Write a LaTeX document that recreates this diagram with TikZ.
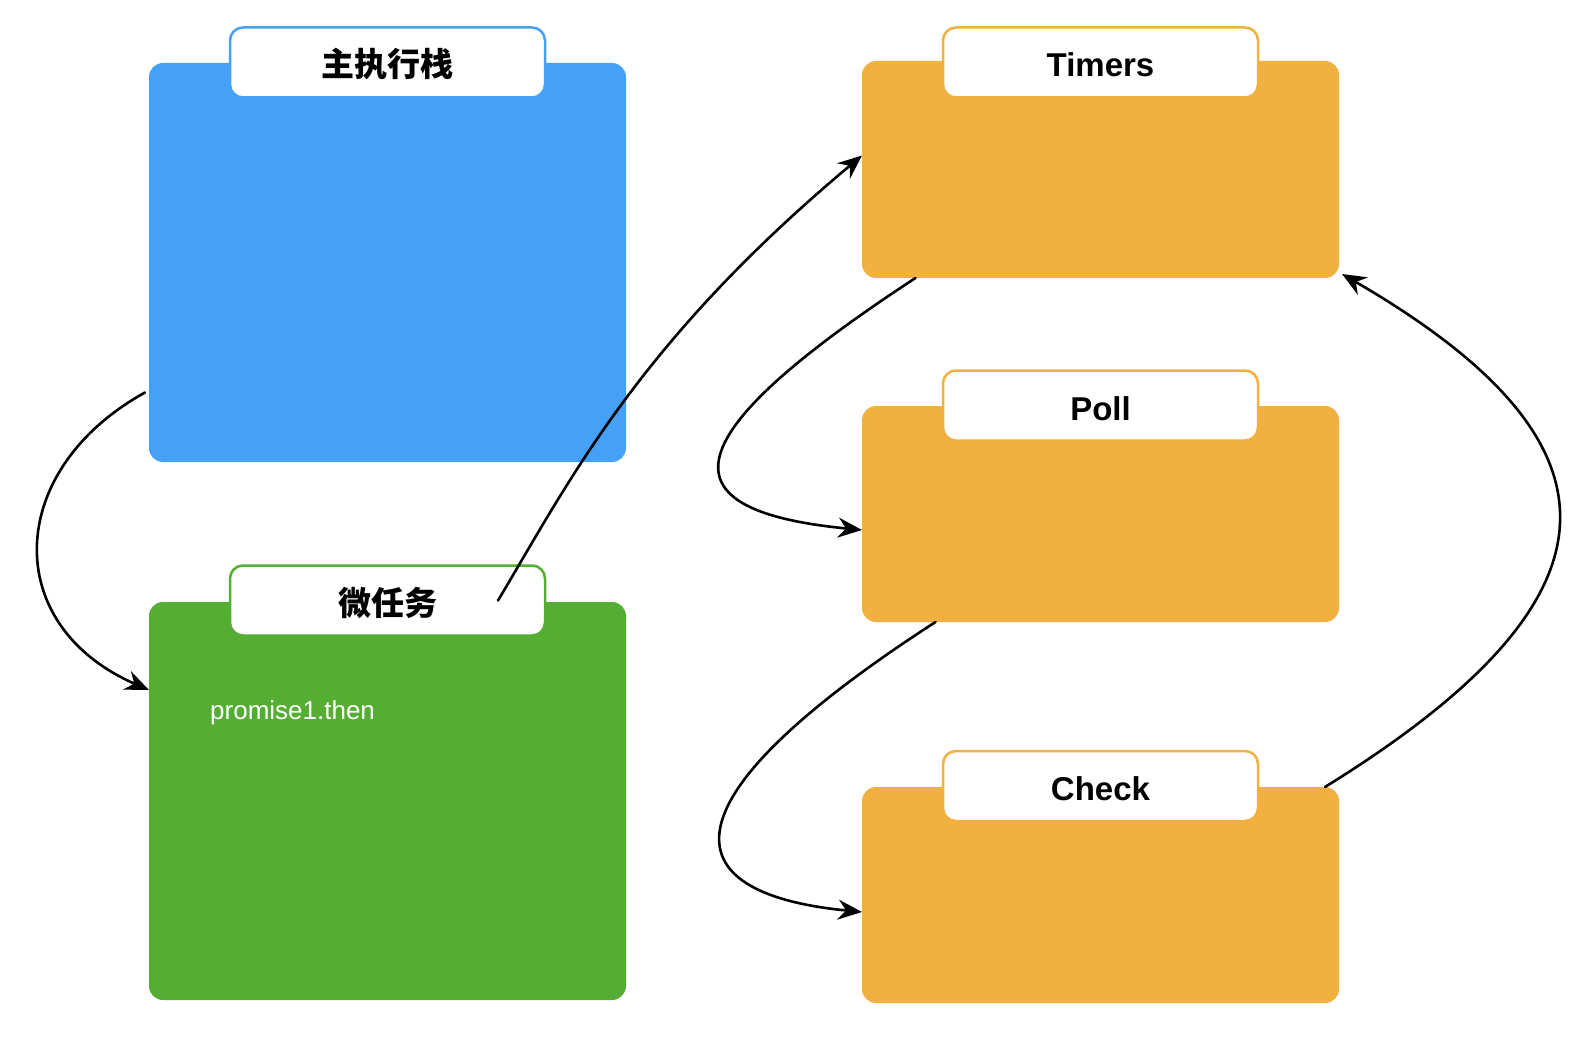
\documentclass[tikz,border=0pt]{standalone}
\usepackage{fontspec}
\setmainfont{Liberation Sans}
\newfontfamily\cjk{Noto Sans CJK SC}
\usetikzlibrary{arrows.meta}
\definecolor{blueC}{RGB}{69,160,248}
\definecolor{greenC}{RGB}{85,173,52}
\definecolor{orangeC}{RGB}{242,176,64}
\begin{document}
\begin{tikzpicture}[x=1pt,y=-1pt,
  panel/.style={rounded corners=14pt, minimum width=477pt, inner sep=0pt, outer sep=0pt},
  tab/.style={fill=white, draw=#1, line width=2.5pt, rounded corners=13pt, minimum width=315pt, minimum height=70pt, inner sep=0pt, outer sep=0pt, text height=29pt, text depth=0pt, font=\fontsize{33}{38}\selectfont\bfseries},
  sk/.style={line width=2.6pt, line cap=round, black, -{Stealth[length=24pt,width=20pt,inset=8pt]}}]
\useasboundingbox[fill=white] (0,0) rectangle (1576,1048);

% panels
\node[panel, fill=blueC, minimum height=399pt] (stack) at (387.5,262.5) {};
\node[panel, fill=greenC, minimum height=398pt] (micro) at (387.5,801) {};
\node[panel, fill=orangeC, minimum height=217pt] (timers) at (1100.5,169.5) {};
\node[panel, fill=orangeC, minimum height=216pt] (poll) at (1100.5,514) {};
\node[panel, fill=orangeC, minimum height=216pt] (check) at (1100.5,895) {};

% tabs
\node[tab=blueC] (stacktab) at (387.5,62.5) {\cjk\bfseries 主执行栈};
\node[tab=greenC] (microtab) at (387.5,600.5) {\cjk\bfseries 微任务};
\node[tab=orangeC] (timerstab) at (1100.5,62.5) {Timers};
\node[tab=orangeC] (polltab) at (1100.5,405.5) {Poll};
\node[tab=orangeC] (checktab) at (1100.5,786) {Check};

% content
\node[anchor=west, text=white, inner sep=0pt, font=\fontsize{26}{30}\selectfont] (p1) at (210,713) {promise1.then};

% connectors
\coordinate (a1s) at ([shift={(-4pt,-130pt)}]stack.west);
\coordinate (a1e) at ([yshift=111pt]micro.west);
\draw[sk] (a1s) .. controls (5,470) and (0,625) .. (a1e);

\coordinate (a2s) at ([xshift=-47pt]microtab.east);
\coordinate (a2e) at ([yshift=14pt]timers.west);
\draw[sk] (a2s) .. controls (570,480) and (638,343) .. (a2e);

\coordinate (a3s) at ([xshift=-185pt]timers.south);
\coordinate (a3e) at ([yshift=-16pt]poll.west);
\draw[sk] (a3s) .. controls (663,443) and (667,511) .. (a3e);

\coordinate (a4s) at ([xshift=-165pt]poll.south);
\coordinate (a4e) at ([yshift=-17pt]check.west);
\draw[sk] (a4s) .. controls (660,800) and (667,893) .. (a4e);

\coordinate (a5s) at ([xshift=-14pt]check.north east);
\coordinate (a5e) at ([shift={(3pt,4pt)}]timers.south east);
\draw[sk] (a5s) .. controls (1624,602) and (1642,448) .. (a5e);
\end{tikzpicture}
\end{document}
